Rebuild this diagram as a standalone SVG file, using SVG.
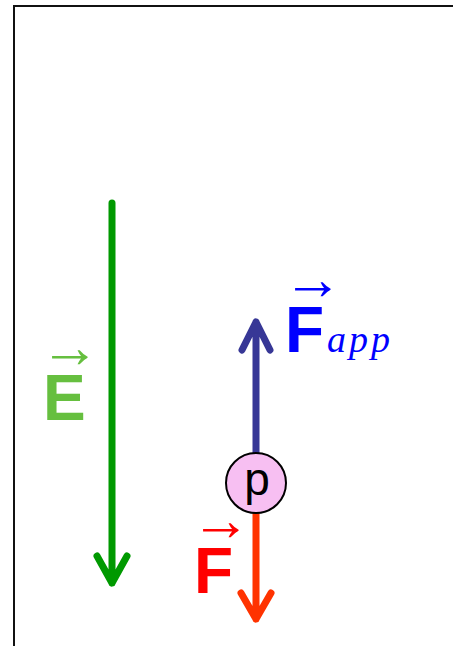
<svg xmlns="http://www.w3.org/2000/svg" width="453" height="646" viewBox="0 0 453 646">
<style>
.vec{stroke-width:7;fill:none;stroke-linecap:round;stroke-linejoin:round}
.lbl{font-family:"Liberation Sans",Arial,sans-serif;font-weight:bold;font-size:64px}
.arr{font-family:"Liberation Serif","DejaVu Serif",serif;font-size:60px}
.sub{font-family:"Liberation Serif","Times New Roman",serif;font-style:italic;font-size:38px;letter-spacing:3px}
</style>
<rect x="14" y="6" width="460" height="660" fill="#fff" stroke="#111" stroke-width="2"/>
<g id="connectors">
<path class="vec" d="M112 203V583M97 556L112 583L127 556" stroke="#009900"/>
<path class="vec" d="M256 455V322M242 350L256 322L270 350" stroke="#373796"/>
<path class="vec" d="M256 512V619M241 593L256 619L271 593" stroke="#ff3300"/>
</g>
<g id="E-label">
<text class="arr" x="40" y="367" fill="#66bf3f">→</text>
<text class="lbl" x="43" y="420" fill="#66bf3f">E</text>
</g>
<g id="Fapp-label">
<text class="arr" x="283" y="299" fill="#0000ff">→</text>
<text class="lbl" x="285" y="352" fill="#0000ff">F</text>
<text class="sub" x="327" y="352" fill="#0000ff">app</text>
</g>
<g id="F-label">
<text class="arr" x="191" y="540" fill="#ff0000">→</text>
<text class="lbl" x="194" y="593" fill="#ff0000">F</text>
</g>
<g id="p">
<circle cx="256" cy="483" r="30" fill="#f7bff2" stroke="#000" stroke-width="2"/>
<text x="257" y="495" text-anchor="middle" font-family="Liberation Sans,Arial,sans-serif" font-size="46">p</text>
</g>
</svg>
